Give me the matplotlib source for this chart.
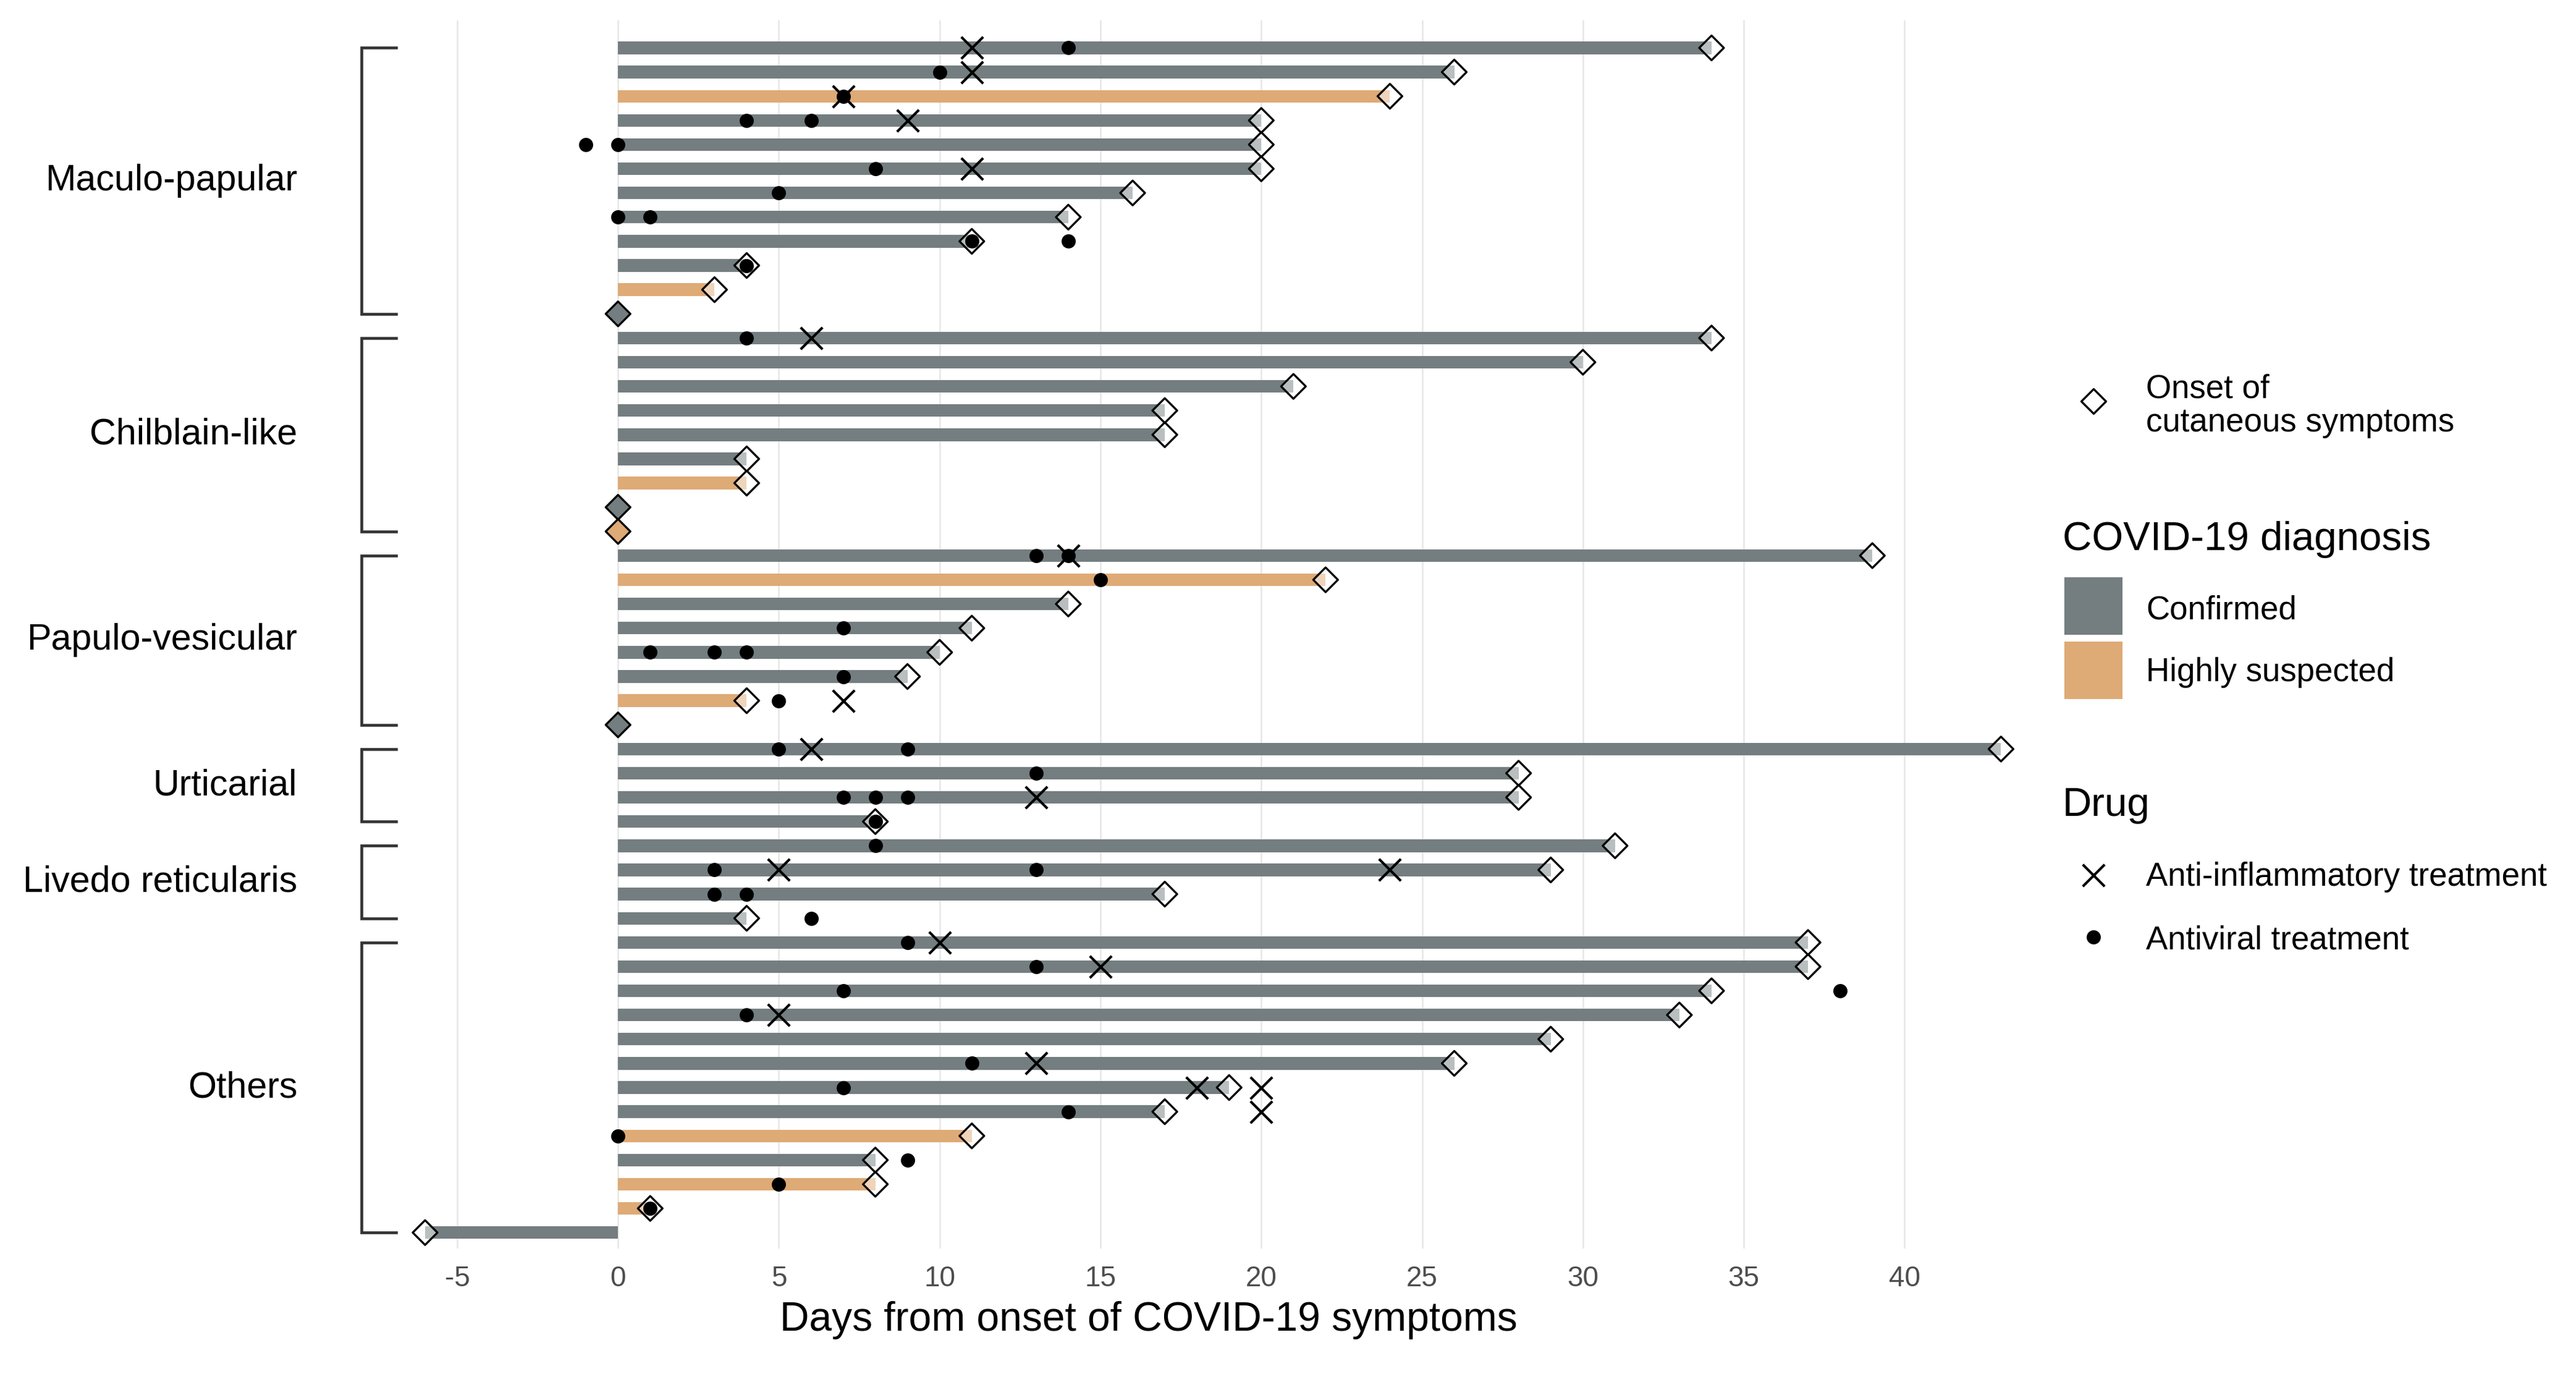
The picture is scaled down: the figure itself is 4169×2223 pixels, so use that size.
import numpy as np
import matplotlib.pyplot as plt

plt.rcParams['font.family'] = ['Liberation Sans', 'DejaVu Sans']
plt.rcParams['axes.unicode_minus'] = False

# groups of cutaneous manifestations, top to bottom
group_names = ['Maculo-papular', 'Chilblain-like', 'Papulo-vesicular',
               'Urticarial', 'Livedo reticularis', 'Others']
group_sizes = [12, 9, 8, 4, 4, 13]

# one entry per patient (row), top to bottom
onset_day = [34, 26, 24, 20, 20, 20, 16, 14, 11, 4, 3, 0,
             34, 30, 21, 17, 17, 4, 4, 0, 0,
             39, 22, 14, 11, 10, 9, 4, 0,
             43, 28, 28, 8,
             31, 29, 17, 4,
             37, 37, 34, 33, 29, 26, 19, 17, 11, 8, 8, 1, -6]
diagnosis = ['C', 'C', 'S', 'C', 'C', 'C', 'C', 'C', 'C', 'C', 'S', 'C',
             'C', 'C', 'C', 'C', 'C', 'C', 'S', 'C', 'S',
             'C', 'S', 'C', 'C', 'C', 'C', 'S', 'C',
             'C', 'C', 'C', 'C',
             'C', 'C', 'C', 'C',
             'C', 'C', 'C', 'C', 'C', 'C', 'C', 'C', 'S', 'C', 'S', 'S', 'C']
antiviral_days = [[14], [10], [7], [4, 6], [-1, 0], [8], [5], [0, 1], [11, 14], [4], [], [],
                  [4], [], [], [], [], [], [], [], [],
                  [13, 14], [15], [], [7], [1, 3, 4], [7], [5], [],
                  [5, 9], [13], [7, 8, 9], [8],
                  [8], [3, 13], [3, 4], [6],
                  [9], [13], [7, 38], [4], [], [11], [7], [14], [0], [9], [5], [1], []]
anti_inflam_days = [[11], [11], [7], [9], [], [11], [], [], [], [], [], [],
                    [6], [], [], [], [], [], [], [], [],
                    [14], [], [], [], [], [], [7], [],
                    [6], [], [13], [],
                    [], [5, 24], [], [],
                    [10], [15], [], [5], [], [13], [18, 20], [20], [], [], [], [], []]

tick_days = [-5, 0, 5, 10, 15, 20, 25, 30, 35, 40]

diag_colors = {'C': '#747e80', 'S': '#deaa76'}
diag_labels = {'C': 'Confirmed', 'S': 'Highly suspected'}

W, H = 4169, 2223
fig = plt.figure(figsize=(W / 300, H / 300), dpi=300)
ax = fig.add_axes([0.1338, 0.0913, 0.6742, 0.8939])

n = len(onset_day)
rows = np.arange(n)
onset = np.array(onset_day)
bar_colors = [diag_colors[d] for d in diagnosis]

# duration bars (from onset of COVID-19 to onset of skin symptoms)
ax.barh(rows, np.abs(onset), left=np.minimum(onset, 0), height=0.52,
        color=bar_colors, zorder=2)

# onset of cutaneous symptoms
face = [diag_colors[d] if o == 0 else (1, 1, 1, 0.5) for o, d in zip(onset_day, diagnosis)]
ax.scatter(onset, rows, marker='D', s=46, facecolors=face, edgecolors='black',
           linewidths=0.8, zorder=3)

# treatments
ai_x = [d for days in anti_inflam_days for d in days]
ai_y = [r for r, days in enumerate(anti_inflam_days) for d in days]
av_x = [d for days in antiviral_days for d in days]
av_y = [r for r, days in enumerate(antiviral_days) for d in days]
ax.scatter(ai_x, ai_y, marker='x', s=8.5 ** 2, c='black', linewidths=1.0, zorder=4)
ax.scatter(av_x, av_y, marker='o', s=5.5 ** 2, c='black', linewidths=0, zorder=5)

# group brackets and labels
start = 0
for name, size in zip(group_names, group_sizes):
    r0, r1 = start, start + size - 1
    ax.plot([-6.9, -7.97, -7.97, -6.9], [r0, r0, r1, r1], color='#333333',
            lw=1.1, clip_on=False, solid_joinstyle='miter', zorder=3)
    ax.text(-9.97, (r0 + r1) / 2, name, ha='right', va='center', fontsize=14.2,
            clip_on=False)
    start += size

ax.set_xlim(-8.5, 45.5)
ax.set_ylim(n - 1 + 0.66, -1.14)
ax.set_xticks(tick_days)
ax.set_yticks([])
ax.grid(axis='x', color='#e6e6e6', lw=0.6)
ax.set_axisbelow(True)
for sp in ax.spines.values():
    sp.set_visible(False)
ax.tick_params(axis='x', length=0, labelsize=11, labelcolor='#4d4d4d', pad=6.5)
ax.set_xlabel('Days from onset of COVID-19 symptoms', fontsize=15.8)
ax.xaxis.set_label_coords(0.4628, -0.043)

# legends, drawn in pixel coordinates of the figure
lax = fig.add_axes([0, 0, 1, 1])
lax.set_xlim(0, W)
lax.set_ylim(H, 0)
lax.axis('off')

lab_x, key_x, title_x = 3473, 3388, 3338
lax.scatter([key_x], [649], marker='D', s=46, facecolors='white', edgecolors='black',
            linewidths=0.8)
lax.text(lab_x, 643, 'Onset of', fontsize=12.7, va='baseline')
lax.text(lab_x, 698, 'cutaneous symptoms', fontsize=12.7, va='baseline')

lax.text(title_x, 890, 'COVID-19 diagnosis', fontsize=15.7, va='baseline')
for (code, top, base) in [('C', 934, 1001), ('S', 1038, 1102)]:
    lax.add_patch(plt.Rectangle((3341, top), 94, 93, color=diag_colors[code], lw=0))
    lax.text(lab_x, base, diag_labels[code], fontsize=12.7, va='baseline')

lax.text(title_x, 1320, 'Drug', fontsize=15.7, va='baseline')
lax.scatter([key_x], [1416], marker='x', s=8.5 ** 2, c='black', linewidths=1.0)
lax.text(lab_x, 1433, 'Anti-inflammatory treatment', fontsize=12.7, va='baseline')
lax.scatter([key_x], [1516], marker='o', s=5.5 ** 2, c='black', linewidths=0)
lax.text(lab_x, 1535, 'Antiviral treatment', fontsize=12.7, va='baseline')

fig.savefig('out.png', dpi=300)
